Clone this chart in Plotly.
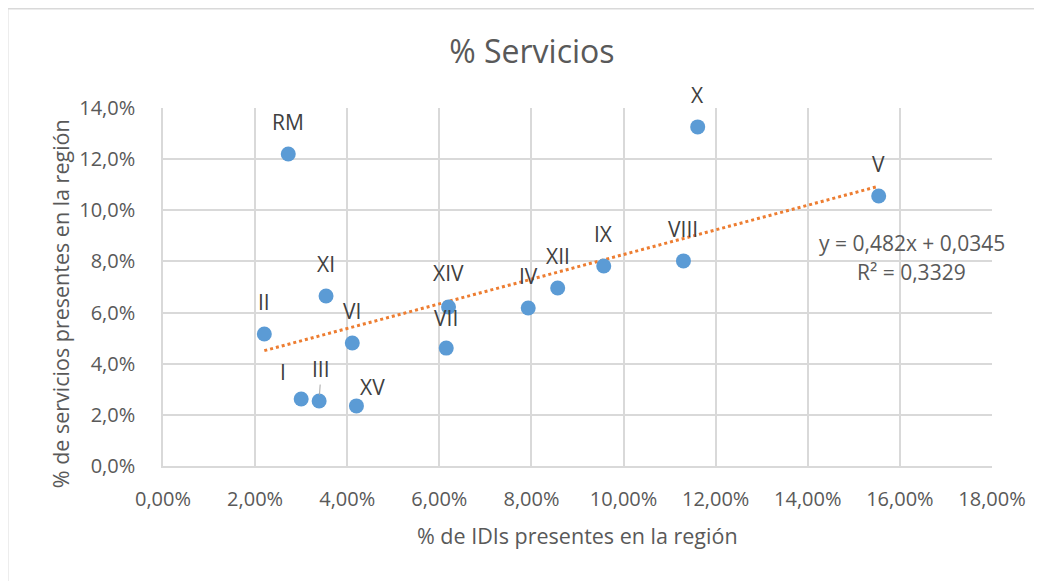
import numpy as np
import plotly.graph_objects as go

# ---- data ----
regions = ["RM", "XI", "II", "VI", "VII", "XIV", "I", "III", "XV", "IV", "XII", "IX", "VIII", "X", "V"]
pct_idis = [0.0272, 0.0354, 0.0220, 0.0411, 0.0615, 0.0620, 0.0300, 0.0339, 0.0420, 0.0793, 0.0857, 0.0957, 0.1130, 0.1161, 0.1554]
pct_servicios = [0.1220, 0.0665, 0.0516, 0.0481, 0.0461, 0.0622, 0.0262, 0.0254, 0.0235, 0.0618, 0.0696, 0.0782, 0.0802, 0.1326, 0.1056]
trend_slope = 0.482
trend_intercept = 0.0345
r_squared = 0.3329

title_text = "% Servicios"
x_title = "% de IDIs presentes en la región"
y_title = "% de servicios presentes en la región"

# ---- styles ----
FONT = "Open Sans"
TEXT = "#595959"
LABEL = "#404040"
GRID = "#d9d9d9"
BLUE = "#5b9bd5"
ORANGE = "#ed7d31"

# label offsets (pixels): default above point
default_offset = (0, 32)
label_offsets = {"I": (-18, 27), "XV": (16, 19), "XIV": (0, 34), "VII": (0, 30)}

fig = go.Figure()

xs = np.array(pct_idis)
tx = np.array([xs.min(), xs.max()])
ty = trend_slope * tx + trend_intercept
fig.add_trace(go.Scatter(x=tx, y=ty, mode="lines",
                         line=dict(color=ORANGE, width=3, dash="dot"),
                         hoverinfo="skip", showlegend=False))
fig.add_trace(go.Scatter(x=pct_idis, y=pct_servicios, mode="markers",
                         marker=dict(color=BLUE, size=15),
                         text=regions, showlegend=False))

annotations = []
for name, x, y in zip(regions, pct_idis, pct_servicios):
    if name == "III":
        annotations.append(dict(x=x, y=y, xref="x", yref="y", text=name,
                                showarrow=True, arrowhead=0, arrowwidth=1,
                                arrowcolor="#a6a6a6", ax=2, ay=-32, standoff=6,
                                font=dict(family=FONT, size=21, color=LABEL)))
        continue
    dx, dy = label_offsets.get(name, default_offset)
    annotations.append(dict(x=x, y=y, xref="x", yref="y", text=name,
                            showarrow=False, xshift=dx, yshift=dy,
                            xanchor="center", yanchor="middle",
                            font=dict(family=FONT, size=21, color=LABEL)))

eq = "y = {}x + {}".format(f"{trend_slope:g}".replace(".", ","), f"{trend_intercept:g}".replace(".", ","))
r2 = "R² = {}".format(f"{r_squared:g}".replace(".", ","))
annotations.append(dict(x=0.1626, y=0.0872, xref="x", yref="y", text=eq, showarrow=False,
                        xanchor="center", yanchor="middle",
                        font=dict(family=FONT, size=21, color=TEXT)))
annotations.append(dict(x=0.1626, y=0.0759, xref="x", yref="y", text=r2, showarrow=False,
                        xanchor="center", yanchor="middle",
                        font=dict(family=FONT, size=21, color=TEXT)))
annotations.append(dict(x=-0.124, y=0.4525, xref="paper", yref="paper", text=y_title,
                        textangle=-90, showarrow=False, xanchor="center", yanchor="middle",
                        font=dict(family=FONT, size=21.5, color=TEXT)))
annotations.append(dict(x=0.5, y=-0.1955, xref="paper", yref="paper", text=x_title,
                        showarrow=False, xanchor="center", yanchor="middle",
                        font=dict(family=FONT, size=21.5, color=TEXT)))

fig.update_layout(
    width=1042, height=581,
    margin=dict(l=155, r=58, t=100, b=123),
    paper_bgcolor="white", plot_bgcolor="white",
    separators=",.",
    title=dict(text=title_text, x=0.445, xref="paper", xanchor="center",
               y=1 - 44 / 581, yref="container", yanchor="middle",
               font=dict(family=FONT, size=32, color=TEXT)),
    annotations=annotations,
    shapes=[dict(type="rect", xref="paper", yref="paper",
                 x0=-0.1876, x1=1.2, y0=-0.5, y1=1.278,
                 line=dict(color=GRID, width=2), layer="below")],
    font=dict(family=FONT, color=TEXT),
)
fig.update_xaxes(range=[0, 0.18], dtick=0.02, tick0=0, tickformat=".2%",
                 showgrid=True, gridcolor=GRID, gridwidth=1.5,
                 zeroline=False, showline=True, linecolor=GRID, linewidth=1.5,
                 ticks="", ticklabelstandoff=14,
                 tickfont=dict(family=FONT, size=20, color=TEXT))
fig.update_yaxes(range=[0, 0.14], dtick=0.02, tick0=0, tickformat=".1%",
                 showgrid=True, gridcolor=GRID, gridwidth=1.5,
                 zeroline=False, showline=True, linecolor=GRID, linewidth=1.5,
                 ticks="", ticklabelstandoff=22,
                 tickfont=dict(family=FONT, size=20, color=TEXT))

fig.write_html("out.html")
